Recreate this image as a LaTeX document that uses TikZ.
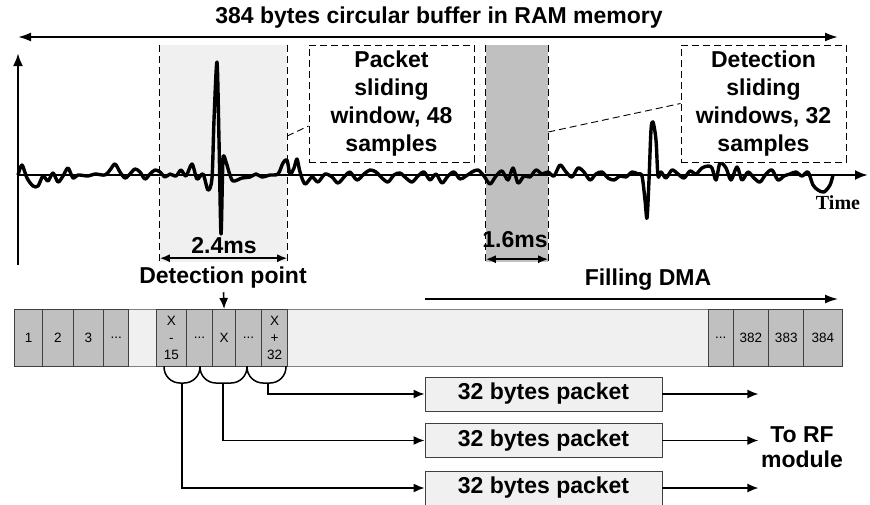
\documentclass[tikz,border=0pt]{standalone}
\usepackage{fontspec}
\setmainfont{Liberation Sans}
\newfontfamily\timesfont{Liberation Serif}
\usetikzlibrary{arrows.meta,positioning}

\definecolor{paleGray}{HTML}{F0F0F0}
\definecolor{cellGray}{HTML}{C0C0C0}
\definecolor{edgeGray}{HTML}{404040}

\newcommand{\celldots}{...}

\tikzset{
  bigtext/.style={font=\fontsize{23}{27.7}\selectfont\bfseries},
  dashline/.style={dash pattern=on 7pt off 4pt, line width=0.9pt},
  callout/.style={draw, dashline, bigtext, align=center,
    minimum width=165pt, minimum height=117pt, inner sep=0pt},
  cellbox/.style={draw=edgeGray, fill=cellGray, line width=0.9pt, minimum height=57pt,
    inner sep=0pt, anchor=north west, align=center, font=\fontsize{13.5}{17}\selectfont},
  packetbox/.style={draw=edgeGray, fill=paleGray, line width=0.9pt,
    minimum width=237pt, minimum height=34pt, inner sep=0pt, bigtext},
  arrowto/.style={line width=1.6pt, -{Latex[length=11pt,width=9pt]}},
  twoway/.style={line width=1.6pt, {Latex[length=10pt,width=8pt]}-{Latex[length=10pt,width=8pt]}},
  brace/.style={line width=1.5pt, rounded corners=16pt},
}

\begin{document}
\begin{tikzpicture}[x=1pt, y=-1pt]
\useasboundingbox (0,0) rectangle (870,504);

% sliding windows
\node[fill=paleGray, minimum width=127pt, minimum height=217pt, inner sep=0pt] (pwin) at (223.5,153.5) {};
\node[fill=cellGray, minimum width=62pt, minimum height=217pt, inner sep=0pt] (dwin) at (517,153.5) {};
\foreach \w in {pwin, dwin} {
  \draw[dashline] (\w.north west) -- (\w.south west);
  \draw[dashline] (\w.north east) -- (\w.south east);
}
\draw[twoway] ([yshift=4pt]pwin.south west) -- ([yshift=4pt]pwin.south east);
\draw[twoway] ([yshift=3pt]dwin.south west) -- ([yshift=3pt]dwin.south east);
\node[bigtext] (pwidth) at (224,246) {2.4ms};
\node[bigtext] (dwidth) at (515,240) {1.6ms};

% axes
\coordinate (origin) at (18,175);
\draw[line width=2.5pt, -{Latex[length=13pt,width=10pt]}] (18,265) -- (18,53);
\draw[line width=2.5pt, -{Latex[length=13pt,width=10pt]}] (origin) -- (868,175);
\node[font=\timesfont\fontsize{20}{20}\selectfont\bfseries] (time) at (838,203) {Time};

% buffer length
\node[bigtext] (title) at (439,18) {384 bytes circular buffer in RAM memory};
\draw[line width=2pt, {Latex[length=13pt,width=9pt]}-{Latex[length=13pt,width=9pt]}] (18,37) -- (838,37);

% signal
\draw[line width=3.4pt, line join=round] plot[smooth, tension=0.5] coordinates {
  (18,175) (22,165) (27,178) (33,186) (38,186) (43,176) (48,181) (53,173) (58,182)
  (63,176) (68,168) (73,178) (78,175) (88,176) (95,174) (105,175) (110,170) (115,164)
  (120,172) (125,178) (130,174) (135,169) (140,172) (145,179) (150,174) (155,170)
  (160,172) (165,177) (170,174) (176,176) (181,170) (186,176) (192,164) (197,179)
  (203,174) (208,190) (212,178) (214,120) (217,62) (219,140) (221,234) (223,160)
  (226,162) (229,172) (233,181) (242,178) (250,177) (256,174) (262,177) (270,175)
  (278,174) (283,163) (287,160) (290,174) (294,168) (297,159) (300,172) (305,184)
  (312,177) (318,182) (325,174) (332,177) (338,183) (345,176) (350,172) (357,180)
  (364,174) (370,170) (376,172) (382,178) (388,182) (394,175) (400,173) (406,178)
  (412,182) (418,176) (424,172) (430,180) (436,174) (442,183) (448,176) (454,172)
  (460,179) (466,176) (472,172) (478,170) (484,176) (490,184) (496,176) (502,171)
  (508,180) (513,168) (518,183) (524,176) (530,177) (536,170) (542,174) (548,172)
  (554,176) (560,165) (566,172) (572,177) (578,168) (584,172) (590,180) (596,174)
  (602,172) (608,178) (614,180) (620,176) (626,177) (632,172) (638,174) (642,176)
  (645,200) (647,218) (649,180) (651,130) (653,122) (656,140) (658,176) (661,172)
  (666,178) (672,170) (678,174) (684,178) (690,171) (696,174) (702,168) (708,166)
  (712,168) (716,180) (720,163) (726,168) (731,180) (737,167) (742,180) (748,172)
  (754,178) (760,182) (766,174) (772,170) (778,180) (784,176) (790,174) (796,172)
  (802,176) (808,172) (813,185) (818,190) (824,192) (830,185) (833,175)};

% callouts
\node[callout, fill=white] (pcall) at (391.5,103.5) {Packet\\sliding\\window, 48\\samples};
\node[callout, fill=white] (dcall) at (763.5,103.5) {Detection\\sliding\\windows, 32\\samples};
\draw[dashline] ([yshift=17.5pt]pwin.east) -- ([yshift=-22.5pt]pcall.west);
\draw[dashline] ([yshift=21.5pt]dwin.east) -- (dcall.west);

% circular buffer
\draw[draw=gray, fill=paleGray, line width=0.9pt] (14,309) rectangle (842,366);
\foreach \x/\w/\txt/\nm in {14/28.3/1/c1, 42.3/30.4/2/c2, 72.7/30.6/3/c3, 103.3/25/{\celldots}/c4,
    155.7/30.3/{X\\-\\15}/c5, 186/26.3/{\celldots}/c6, 212.3/22.7/X/c7, 235/26/{\celldots}/c8,
    261/26.3/{X\\+\\32}/c9, 707.7/25/{\celldots}/c10, 732.7/35.6/382/c11, 768.3/35/383/c12,
    803.3/38.4/384/c13}
  \node[cellbox, minimum width=\w pt] (\nm) at (\x,309) {\txt};

\node[bigtext] (detpt) at (223,278) {Detection point};
\draw[arrowto] (detpt) -- (c7.north);
\node[bigtext] (dma) at (648,280) {Filling DMA};
\coordinate (dmastart) at (425,299);
\draw[line width=1.6pt, -{Latex[length=13pt,width=9pt]}] (dmastart) -- (838,299);

% packets
\node[packetbox] (pk1) at (543.5,394) {32 bytes packet};
\node[packetbox] (pk2) at (543.5,440.5) {32 bytes packet};
\node[packetbox] (pk3) at (543.5,488) {32 bytes packet};

\draw[brace] (164,366) -- (164,383) -- (200,383) -- (200,366);
\draw[brace] (200,366) -- (200,383) -- (247,383) -- (247,366);
\draw[brace] (247,366) -- (247,383) -- (286,383) -- (286,366);
\coordinate (b1) at (182,383);
\coordinate (b2) at (223,383);
\coordinate (b3) at (268,383);
\draw[arrowto] (b1) |- (pk3.west);
\draw[arrowto] (b2) |- (pk2.west);
\draw[arrowto] (b3) |- (pk1.west);

\foreach \p in {pk1, pk2, pk3}
  \draw[arrowto] (\p.east) -- ++(96,0);
\node[bigtext, align=center, font=\fontsize{23}{25}\selectfont\bfseries] (rf) at (802,447) {To RF\\module};
\end{tikzpicture}
\end{document}
